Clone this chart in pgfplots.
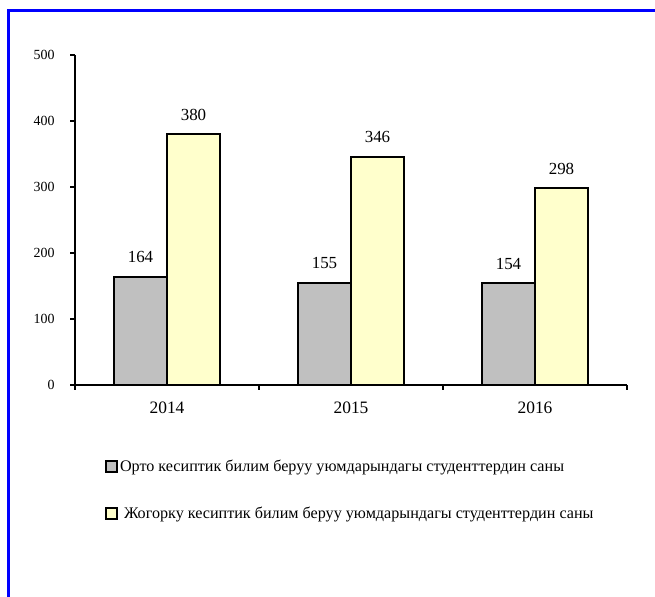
\documentclass[border=0pt]{standalone}
\usepackage{fontspec}
\setmainfont{Liberation Serif}
\usepackage{pgfplots}
\pgfplotsset{compat=1.18}
\definecolor{bargray}{HTML}{C0C0C0}
\definecolor{baryellow}{HTML}{FFFFCC}
\definecolor{frameblue}{HTML}{0000FF}
\begin{document}
\begin{tikzpicture}[x=1bp,y=1bp]
\useasboundingbox (0,0) rectangle (655,597);
\draw[frameblue, line width=3bp] (8.5,-10) -- (8.5,586.5) -- (680,586.5);
\begin{axis}[
  at={(75bp,212bp)}, anchor=south west,
  scale only axis, width=552bp, height=330bp,
  xmin=0, xmax=3, ymin=0, ymax=500,
  axis x line*=bottom, axis y line*=left,
  axis line style={line width=1.8bp, -, black},
  ybar=0pt, bar width=53bp,
  ytick={0,100,...,500},
  xtick={0.5,1.5,2.5}, xticklabels={2014,2015,2016},
  minor xtick={0,1,2,3},
  tick align=outside, major tick length=5bp, minor tick length=5bp,
  every tick/.style={line width=1.8bp, black},
  major x tick style={draw=none},
  /pgf/number format/assume math mode=true,
  yticklabel style={font=\fontsize{14}{16}\selectfont, xshift=-12bp},
  xticklabel style={font=\fontsize{17.5}{19}\selectfont, yshift=-8bp},
  nodes near coords,
  every node near coord/.append style={font=\fontsize{17}{19}\selectfont, anchor=south, inner sep=0pt, yshift=13bp, black},
  legend style={at={(rel axis cs:0.049,-0.215)}, anchor=north west, draw=none, fill=none,
    font=\fontsize{16.2}{18}\selectfont, row sep=30bp, cells={anchor=west}},
  legend image code/.code={\draw[line width=1.8bp, draw=black, fill=\pgfkeysvalueof{/pgfplots/legendfill}] (0bp,-5.5bp) rectangle (11bp,5.5bp);},
  /pgfplots/legendfill/.initial=white,
]
\addplot[fill=bargray, draw=black, line width=1.8bp, /pgfplots/legendfill=bargray] coordinates {(0.5,164) (1.5,155) (2.5,154)};
\addlegendentry{Орто кесиптик билим беруу уюмдарындагы студенттердин саны}
\addplot[fill=baryellow, draw=black, line width=1.8bp, /pgfplots/legendfill=baryellow] coordinates {(0.5,380) (1.5,346) (2.5,298)};
\addlegendentry{\ Жогорку кесиптик билим беруу уюмдарындагы студенттердин саны}
\end{axis}
\end{tikzpicture}
\end{document}
